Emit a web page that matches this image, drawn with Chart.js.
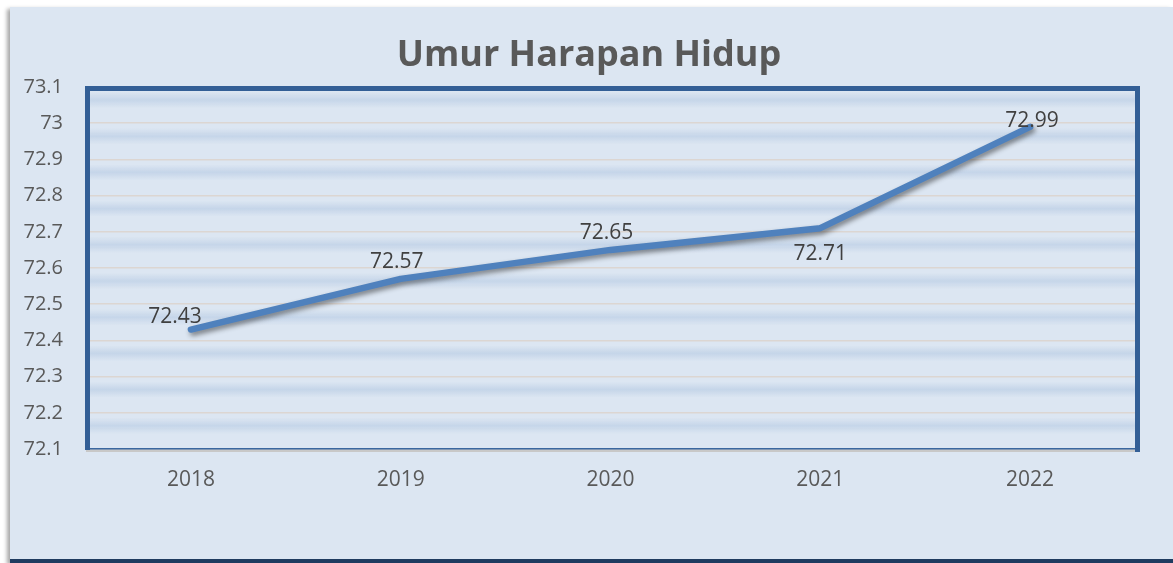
<!DOCTYPE html>
<html>
<head>
<meta charset="utf-8">
<script src="https://cdn.jsdelivr.net/npm/chart.js@4/dist/chart.umd.min.js"></script>
<style>
  html,body{margin:0;padding:0;background:#fff;}
  #frame{position:absolute;left:10px;top:7px;width:1163px;height:552px;background:#dce6f2;
    border-bottom:4px solid #1f3b60;box-shadow:-3px 2px 4px rgba(0,0,0,0.35);}
  #wrap{position:absolute;left:0;top:0;width:1173px;height:563px;}
</style>
</head>
<body>
<div id="frame"></div>
<div id="wrap"><canvas id="chartUHH" width="1173" height="563"></canvas></div>
<script>
// data
const years = ['2018','2019','2020','2021','2022'];
const uhh = [72.43, 72.57, 72.65, 72.71, 72.99];
const labelSide = ['left','above','above','below','above'];
const yMin = 72.1, yMax = 73.1, yStep = 0.1;
const chartTitle = 'Umur Harapan Hidup';

const bandsPlugin = {
  id:'bands',
  beforeDatasetsDraw(chart){
    const {ctx, chartArea:a, scales:{y}} = chart;
    ctx.save();
    for(let v=yMin; v<yMax-0.001; v+=yStep){
      const top = y.getPixelForValue(v+yStep);
      const c = top + 13;
      const g = ctx.createLinearGradient(0,c-8,0,c+8);
      g.addColorStop(0,'rgba(190,208,230,0)');
      g.addColorStop(0.5,'rgba(190,208,230,0.75)');
      g.addColorStop(1,'rgba(190,208,230,0)');
      ctx.fillStyle = g;
      ctx.fillRect(a.left, c-8, a.right-a.left, 16);
    }
    ctx.restore();
  }
};

const shadowPlugin = {
  id:'lineShadow',
  beforeDatasetDraw(chart){
    const ctx = chart.ctx;
    ctx.save();
    ctx.shadowColor = 'rgba(0,0,0,0.45)';
    ctx.shadowBlur = 5;
    ctx.shadowOffsetX = 2;
    ctx.shadowOffsetY = 3;
  },
  afterDatasetDraw(chart){ chart.ctx.restore(); }
};

const valueLabels = {
  id:'valueLabels',
  afterDatasetsDraw(chart){
    const ctx = chart.ctx;
    const meta = chart.getDatasetMeta(0);
    ctx.save();
    ctx.font = '21px "Open Sans"';
    ctx.fillStyle = '#404040';
    ctx.textAlign = 'center';
    ctx.textBaseline = 'middle';
    meta.data.forEach((pt,i)=>{
      let x = pt.x, yy = pt.y;
      const s = labelSide[i];
      if(s==='left'){ x -= 16; yy -= 13; }
      else if(s==='below'){ yy += 26; }
      else if(i===uhh.length-1){ x += 2; yy -= 6; }
      else { x -= 4; yy -= 17; }
      ctx.fillText(uhh[i].toFixed(2), x, yy);
    });
    ctx.restore();
  }
};

const boxPlugin = {
  id:'plotBox',
  afterDraw(chart){
    const {ctx, chartArea:a} = chart;
    ctx.save();
    // title
    ctx.font = 'bold 36px "Open Sans"';
    ctx.fillStyle = '#595959';
    ctx.textAlign = 'center';
    ctx.textBaseline = 'middle';
    ctx.fillText(chartTitle, 589, 56);
    // bottom edge
    ctx.fillStyle = '#c8c8c8';
    ctx.fillRect(a.left, a.bottom, a.right-a.left+4, 3);
    ctx.fillStyle = '#3a679f';
    ctx.fillRect(a.left, a.bottom-1, a.right-a.left, 1.5);
    // left, top, right
    ctx.fillStyle = '#335f96';
    ctx.fillRect(a.left-1, a.top-1, 5, a.bottom-a.top+2);
    ctx.fillRect(a.left-1, a.top-1, a.right-a.left+6, 5);
    ctx.fillRect(a.right, a.top-1, 5, a.bottom-a.top+4);
    ctx.restore();
  }
};

new Chart(document.getElementById('chartUHH'), {
  type:'line',
  data:{
    labels: years,
    datasets:[{
      data: uhh,
      borderColor:'#4f81bd',
      borderWidth:6.5,
      borderCapStyle:'round',
      borderJoinStyle:'round',
      pointRadius:0,
      tension:0
    }]
  },
  options:{
    responsive:false,
    animation:false,
    layout:{ padding:{ left:0, right:38, top:87, bottom:52 } },
    plugins:{
      legend:{ display:false },
      tooltip:{ enabled:false },
      title:{ display:false }
    },
    scales:{
      x:{
        offset:true,
        grid:{ display:false, drawTicks:false },
        border:{ display:false },
        afterFit(s){ s.height = 62; },
        ticks:{ color:'#595959', font:{ family:'"Open Sans"', size:21 }, padding:18 }
      },
      y:{
        min:yMin, max:yMax,
        afterFit(s){ s.width = 86; },
        grid:{ color:'#dcd6d2', lineWidth:1.5, drawTicks:false },
        border:{ display:false },
        ticks:{ stepSize:yStep, color:'#595959', font:{ family:'"Open Sans"', size:20 }, padding:23,
          callback:(v)=>parseFloat(v.toFixed(1)).toString() }
      }
    }
  },
  plugins:[bandsPlugin, shadowPlugin, valueLabels, boxPlugin]
});
</script>
</body>
</html>
